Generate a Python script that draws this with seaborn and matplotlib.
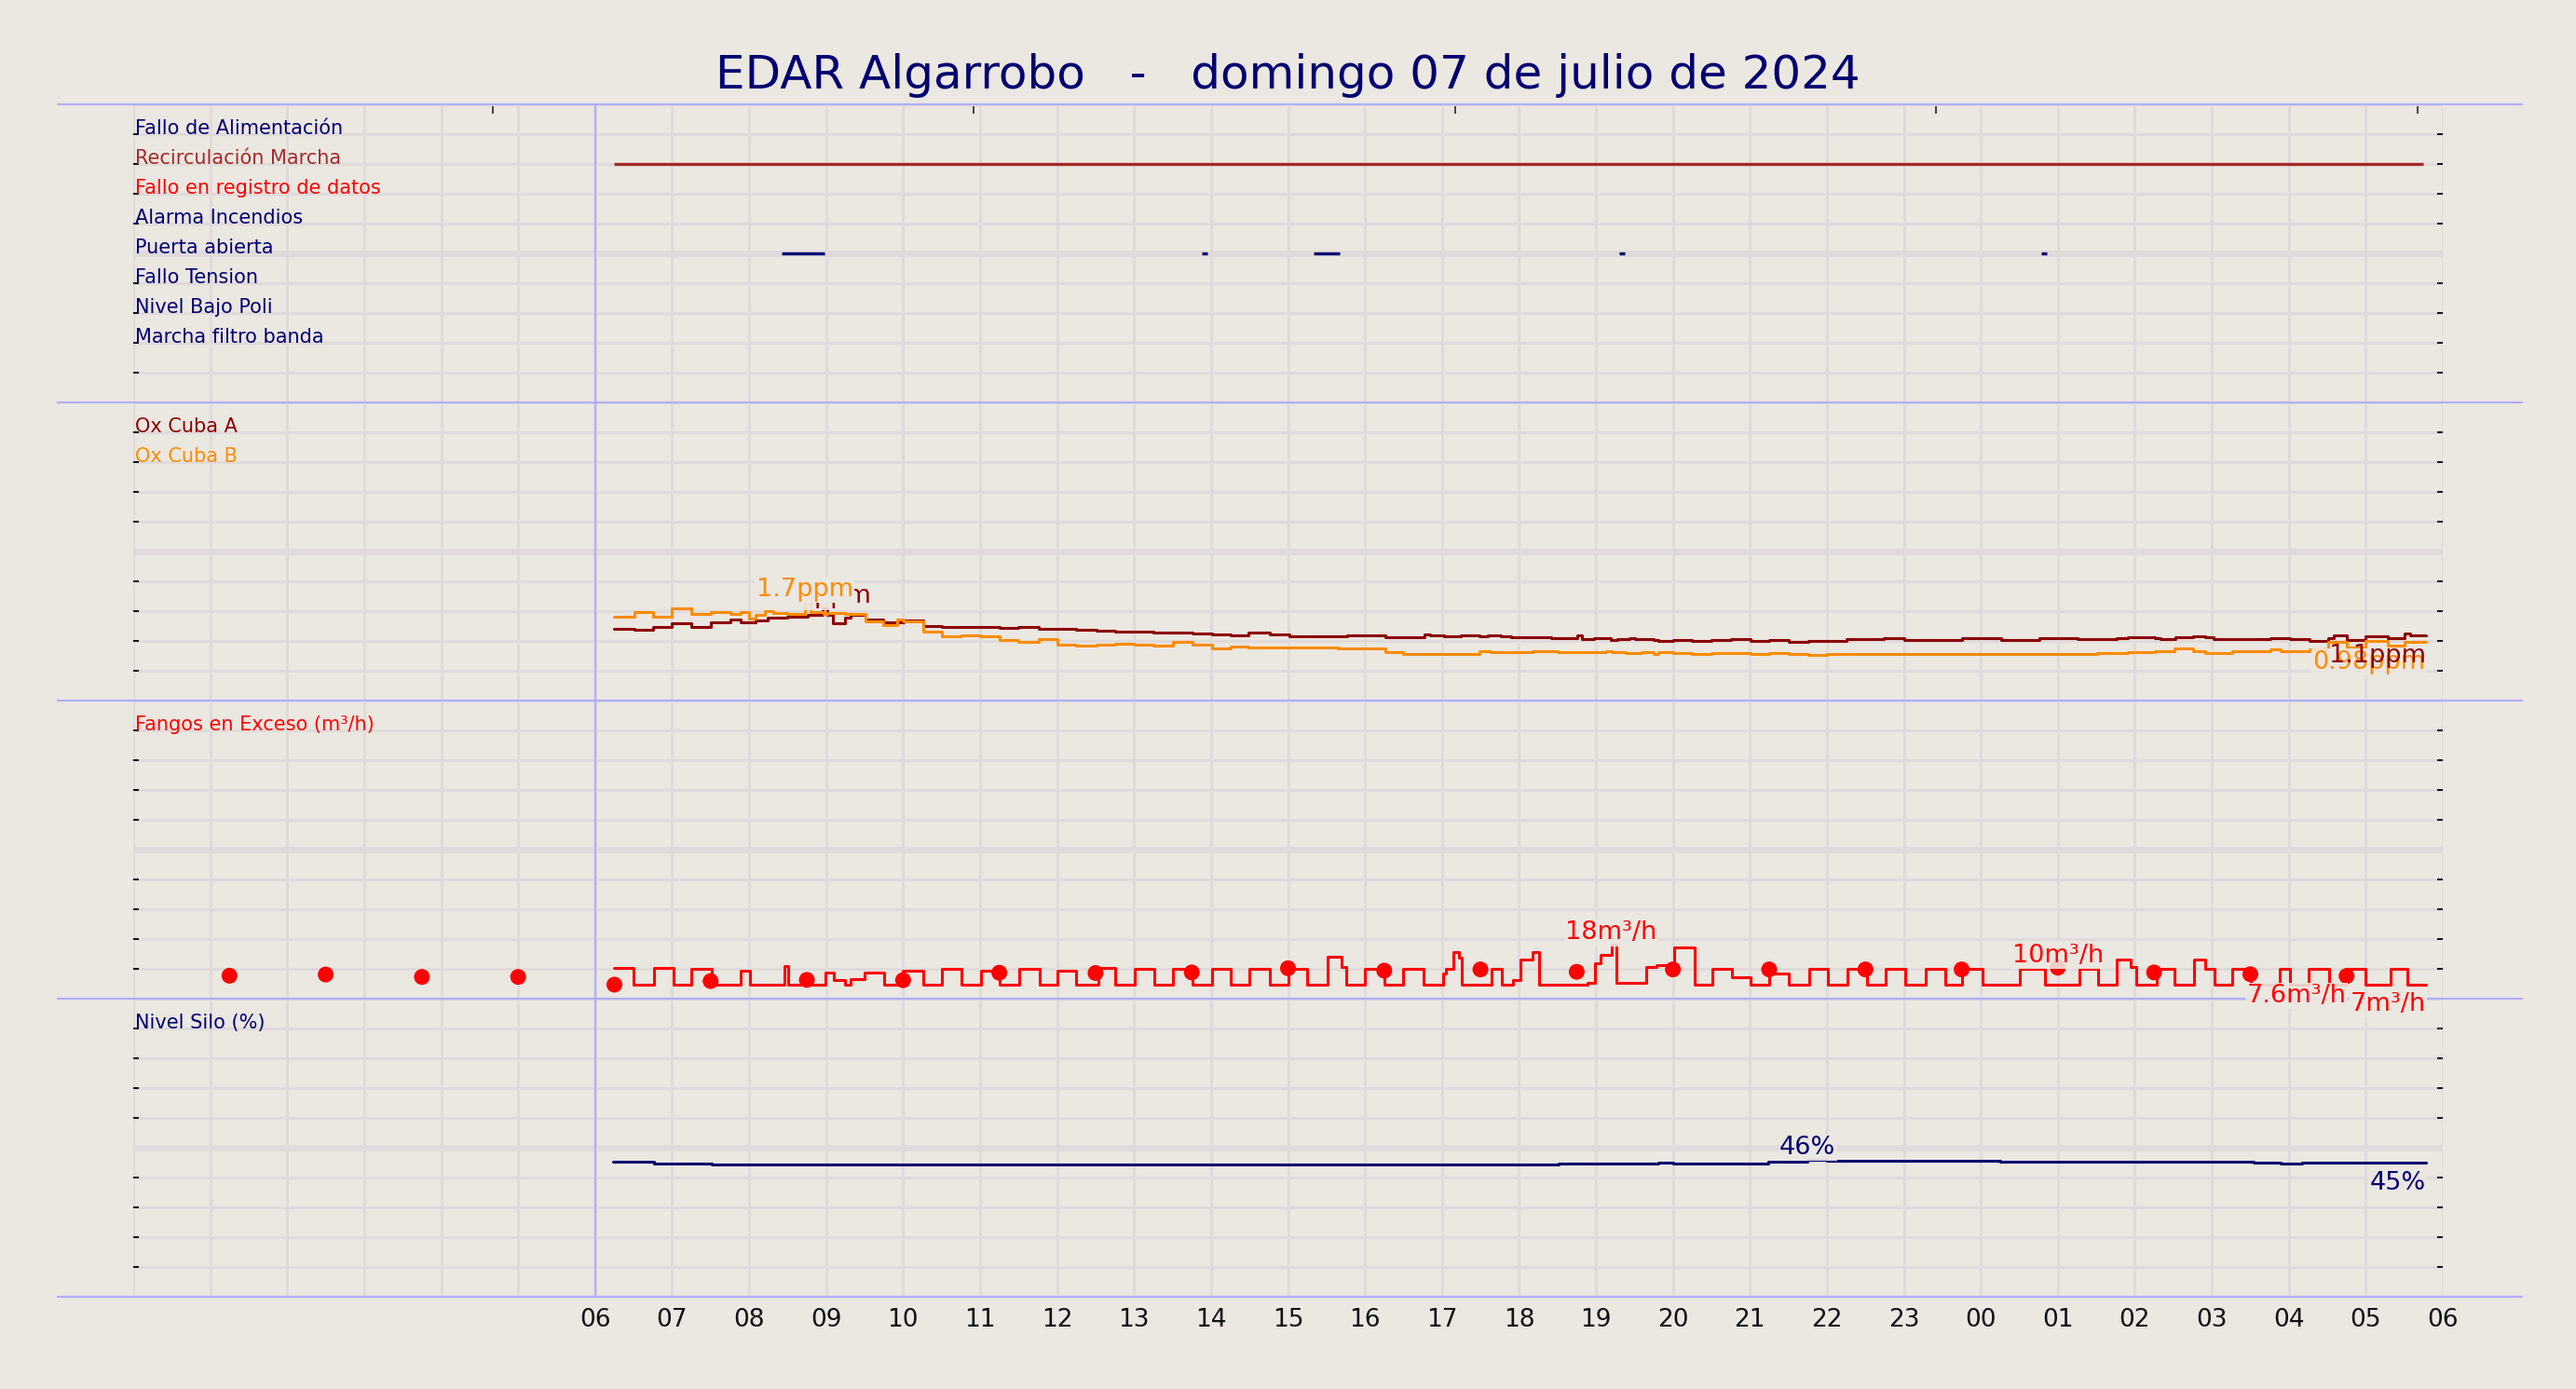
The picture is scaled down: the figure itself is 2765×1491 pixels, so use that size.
import numpy as np
import pandas as pd
import matplotlib
matplotlib.use("Agg")
import matplotlib.pyplot as plt
import seaborn as sns
from matplotlib.lines import Line2D

# colours
bg = "#ebe7e1"
grid_c = "#e0dbda"
sep_c = "#b0b0ff"
navy = "#000070"

title = "EDAR Algarrobo   -   domingo 07 de julio de 2024"

# x axis in hours from 00:00, the day runs 06:00 -> 06:00
hour_labels = ["06", "07", "08", "09", "10", "11", "12", "13", "14", "15", "16", "17",
               "18", "19", "20", "21", "22", "23", "00", "01", "02", "03", "04", "05", "06"]
top_ticks = [4.67, 10.92, 17.17, 23.42, 29.67]

# panel 1: digital signals
status_names = ["Fallo de Alimentación", "Recirculación Marcha", "Fallo en registro de datos",
                "Alarma Incendios", "Puerta abierta", "Fallo Tension", "Nivel Bajo Poli",
                "Marcha filtro banda"]
status_colors = [navy, "#a52a2a", "red", navy, navy, navy, navy, navy]
status_rows = [9, 8, 7, 6, 5, 4, 3, 2]
recirc_on = [6.25]
recirc_off = [29.75]
puerta_on = [8.42, 13.88, 15.33, 19.30, 24.78]
puerta_off = [8.98, 13.95, 15.67, 19.38, 24.86]

# panel 2: oxygen (ppm)
ox_a_t = [6.24, 6.51, 6.75, 7.00, 7.25, 7.50, 7.76, 7.89, 8.00, 8.08, 8.24, 8.49, 8.76, 8.95,
          9.01, 9.09, 9.24, 9.32, 9.51, 9.74, 10.01, 10.26, 10.51, 11.25, 11.50, 11.76, 12.25,
          12.51, 12.75, 13.25, 13.76, 14.01, 14.26, 14.49, 14.76, 15.02, 15.26, 15.77, 16.27,
          16.77, 16.85, 17.03, 17.25, 17.49, 17.59, 17.76, 17.90, 18.42, 18.76, 18.82, 18.98,
          19.19, 19.28, 19.44, 19.51, 19.75, 19.81, 20.01, 20.25, 20.50, 20.75, 21.01, 21.25,
          21.51, 21.76, 22.25, 22.74, 23.01, 23.75, 24.26, 24.76, 25.26, 25.76, 25.91, 26.26,
          26.33, 26.53, 26.76, 26.92, 27.02, 27.76, 28.01, 28.27, 28.51, 28.59, 28.75, 28.99,
          29.28, 29.50, 29.58, 29.78]
ox_a_v = [1.21, 1.19, 1.23, 1.29, 1.24, 1.31, 1.36, 1.32, 1.31, 1.34, 1.385, 1.40, 1.43, 1.54,
          1.43, 1.29, 1.385, 1.44, 1.36, 1.32, 1.344, 1.255, 1.229, 1.214, 1.229, 1.208, 1.188,
          1.172, 1.161, 1.146, 1.13, 1.115, 1.094, 1.135, 1.115, 1.073, 1.083, 1.099, 1.068,
          1.115, 1.089, 1.083, 1.10, 1.083, 1.10, 1.083, 1.068, 1.052, 1.10, 1.031, 1.052,
          1.02, 1.031, 1.052, 1.031, 1.016, 1.0, 1.021, 1.0, 1.021, 1.036, 1.0, 1.021,
          0.984, 1.0, 1.036, 1.052, 1.021, 1.052, 1.016, 1.052, 1.031, 1.052, 1.068, 1.052,
          1.031, 1.063, 1.083, 1.063, 1.036, 1.047, 1.031, 1.005, 1.047, 1.099, 1.021, 1.083,
          1.047, 1.125, 1.09, 1.09]
ox_b_t = [6.24, 6.51, 6.75, 7.00, 7.25, 7.50, 7.76, 7.89, 8.00, 8.08, 8.20, 8.31, 8.49, 8.72,
          8.80, 8.97, 9.01, 9.24, 9.51, 9.74, 9.92, 10.01, 10.26, 10.51, 10.76, 11.00, 11.25,
          11.50, 11.76, 12.00, 12.25, 12.51, 12.75, 13.01, 13.25, 13.51, 13.76, 14.01, 14.26,
          14.49, 15.65, 16.27, 16.50, 17.49, 17.63, 18.18, 18.50, 19.13, 19.20, 19.39, 19.59,
          19.75, 19.81, 20.01, 20.25, 20.50, 21.01, 21.25, 21.51, 21.76, 22.00, 25.51, 25.91,
          26.26, 26.51, 26.76, 26.92, 27.26, 27.76, 27.89, 28.27, 28.51, 28.75, 28.99, 29.28,
          29.50, 29.78]
ox_b_v = [1.40, 1.49, 1.41, 1.54, 1.458, 1.49, 1.448, 1.479, 1.37, 1.437, 1.505, 1.47, 1.448, 1.70,
          1.49, 1.458, 1.468, 1.448, 1.333, 1.271, 1.359, 1.333, 1.151, 1.073, 1.099, 1.073, 1.010,
          0.979, 1.036, 0.943, 0.927, 0.943, 0.958, 0.943, 0.927, 0.979, 0.943, 0.88, 0.906,
          0.896, 0.88, 0.813, 0.786, 0.828, 0.8125, 0.828, 0.8125, 0.828, 0.8125, 0.797, 0.8125,
          0.781, 0.8125, 0.797, 0.781, 0.797, 0.781, 0.80, 0.781, 0.766, 0.781, 0.797, 0.8125,
          0.828, 0.875, 0.823, 0.802, 0.833, 0.854, 0.833, 0.865, 0.979, 0.891, 0.995, 0.917,
          0.98, 0.98]

# panel 3: excess sludge (m3/h), signal and 75 min mean
fangos_t = [6.25, 6.50, 6.76, 7.02, 7.25, 7.52, 7.89, 8.01, 8.46, 8.51, 8.99, 9.10, 9.24, 9.32,
            9.50, 9.75, 9.99, 10.26, 10.51, 10.76, 11.01, 11.26, 11.51, 11.77, 12.01, 12.25,
            12.54, 12.76, 13.01, 13.26, 13.50, 13.76, 14.01, 14.26, 14.50, 14.76, 15.00, 15.25,
            15.52, 15.69, 15.76, 16.00, 16.25, 16.50, 16.76, 17.01, 17.05, 17.15, 17.22, 17.26,
            17.64, 17.78, 17.92, 18.02, 18.18, 18.26, 18.89, 18.99, 19.06, 19.20, 19.27, 19.65,
            19.79, 20.02, 20.28, 20.51, 20.77, 21.01, 21.25, 21.51, 21.77, 22.01, 22.27, 22.52,
            22.76, 23.02, 23.28, 23.54, 23.76, 24.02, 24.51, 24.83, 25.28, 25.52, 25.76, 25.95,
            26.02, 26.28, 26.51, 26.77, 26.91, 27.03, 27.27, 27.51, 27.88, 28.02, 28.26, 28.52,
            28.74, 29.00, 29.32, 29.54, 29.78]
fangos_v = [10.2, 4.7, 10.2, 4.7, 10.0, 4.7, 9.5, 4.7, 11.0, 4.7, 8.7, 6.4, 4.7, 6.7,
            8.7, 4.7, 9.5, 4.7, 10.0, 4.7, 9.5, 4.7, 10.0, 4.7, 9.5, 4.7,
            10.2, 4.7, 10.0, 4.7, 10.0, 4.7, 10.0, 4.7, 10.0, 4.7, 10.0, 4.7,
            14.0, 10.6, 4.7, 10.0, 4.7, 10.0, 4.7, 8.4, 10.0, 15.6, 13.7, 4.7,
            10.0, 4.7, 6.3, 13.0, 15.6, 4.7, 5.3, 12.0, 14.7, 18.0, 5.3, 10.6,
            11.2, 17.2, 4.7, 10.0, 7.2, 4.7, 8.4, 4.7, 10.0, 4.7, 10.0, 4.7,
            10.0, 4.7, 10.0, 4.7, 10.0, 4.7, 10.0, 4.7, 10.0, 4.7, 13.0, 10.5,
            4.7, 10.0, 4.7, 13.0, 10.0, 4.7, 10.0, 4.7, 10.0, 4.7, 10.0, 4.7,
            10.0, 4.7, 10.0, 4.7, 4.7]
fangos_mean_t = [1.25, 2.50, 3.75, 5.00, 6.25, 7.50, 8.75, 10.00, 11.25, 12.50, 13.75, 15.00,
                 16.25, 17.50, 18.75, 20.00, 21.25, 22.50, 23.75, 25.00, 26.25, 27.50, 28.75]
fangos_mean_v = [7.7, 8.1, 7.3, 7.3, 4.7, 5.9, 6.3, 6.2, 8.7, 8.6, 8.8, 10.2,
                 9.4, 9.8, 9.0, 9.8, 9.8, 9.8, 9.8, 10.4, 8.8, 8.2, 7.6]
fangos_last_label = 7

# panel 4: silo level (%)
silo_t = [6.23, 6.76, 7.52, 18.51, 19.81, 20.00, 21.24, 21.75, 22.00, 24.25, 27.54, 27.90, 28.17, 29.78]
silo_v = [45.2, 44.6, 44.3, 44.6, 45.1, 44.6, 45.4, 46.0, 45.6, 45.2, 44.9, 44.6, 44.9, 44.9]

sns.set_theme(style="white", rc={"figure.facecolor": bg, "axes.facecolor": bg})
plt.rcParams["font.family"] = ["DejaVu Sans"]

fig, axes = plt.subplots(4, 1, figsize=(27.65, 14.91), dpi=100, sharex=True,
                         gridspec_kw={"hspace": 0})
fig.subplots_adjust(left=143 / 2765, right=2622 / 2765, top=1 - 112 / 1491, bottom=1 - 1392 / 1491)

# separator lines run a bit wider than the plotting area
sep_x = [(62 - 143) / 2479, (2707 - 143) / 2479]

ytops = [10, 5, 100, 100]
for i, (ax, top) in enumerate(zip(axes, ytops)):
    # upper panels are drawn last so their value tags can hang over the next panel
    ax.set_zorder(4 - i)
    ax.patch.set_visible(False)
    ax.set_axisbelow(True)
    ax.set_xlim(0, 30)
    ax.set_ylim(0, top)
    ax.set_yticks(np.linspace(0, top, 11))
    ax.set_xticks(range(31))
    ax.grid(True, color=grid_c, lw=2.2)
    ax.axhline(top / 2, color=grid_c, lw=5, zorder=0.6)
    ax.axvline(6, color=sep_c, lw=1.6, zorder=1)
    for s in ax.spines.values():
        s.set_visible(False)
    ax.tick_params(axis="y", direction="in", length=4, width=1.3, color="black",
                   left=True, right=True, labelleft=False)
    ax.tick_params(axis="x", length=0, labelsize=19, pad=9, labelcolor="#111111")
    ax.add_line(Line2D(sep_x, [0, 0], transform=ax.transAxes, color=sep_c, lw=1.6,
                       clip_on=False, zorder=2.5))
axes[0].add_line(Line2D(sep_x, [1, 1], transform=axes[0].transAxes, color=sep_c, lw=1.6,
                        clip_on=False, zorder=2.5))

axes[-1].set_xticklabels([""] * 6 + hour_labels)

sec = axes[0].secondary_xaxis("top")
sec.set_xticks(top_ticks, labels=[""] * len(top_ticks))
sec.tick_params(direction="in", length=7, width=1.3, color="#333333")
for s in sec.spines.values():
    s.set_visible(False)


def step(ax, t, v, color, lw=2.2):
    df = pd.DataFrame({"t": t, "v": v})
    sns.lineplot(data=df, x="t", y="v", ax=ax, color=color, lw=lw, estimator=None,
                 sort=False, drawstyle="steps-post", zorder=3)
    ax.set(xlabel="", ylabel="")


def tag(ax, x, y, text, color, ha, va, dy=0, z=5, alpha=0.9):
    ax.annotate(text, (x, y), xytext=(0, dy), textcoords="offset points", ha=ha, va=va,
                color=color, fontsize=19.5, zorder=z, annotation_clip=False,
                bbox=dict(boxstyle="square,pad=0.05", fc=bg, ec="none", alpha=alpha))


def name(ax, y, text, color):
    ax.text(0.02, y, text, color=color, fontsize=15, ha="left", va="baseline", zorder=4)


# panel 1
ax = axes[0]
for n, c, r in zip(status_names, status_colors, status_rows):
    name(ax, r, n, c)
ax.hlines([8] * len(recirc_on), recirc_on, recirc_off, color="#a52a2a", lw=2.4, zorder=3)
ax.hlines([5] * len(puerta_on), puerta_on, puerta_off, color=navy, lw=2.4, zorder=3)

# panel 2
ax = axes[1]
name(ax, 4.5, "Ox Cuba A", "#8b0000")
name(ax, 4.0, "Ox Cuba B", "#ff8c00")
step(ax, ox_a_t, ox_a_v, "#8b0000")
step(ax, ox_b_t, ox_b_v, "#ff8c00")
ia = int(np.argmax(ox_a_v))
ib = int(np.argmax(ox_b_v))
tag(ax, ox_a_t[ia], ox_a_v[ia], f"{ox_a_v[ia]:.2g}ppm", "#8b0000", "center", "bottom", z=5)
tag(ax, ox_b_t[ib], ox_b_v[ib], f"{ox_b_v[ib]:.2g}ppm", "#ff8c00", "center", "bottom", dy=-2, z=6,
    alpha=1)
tag(ax, ox_b_t[-1], ox_b_v[-1], f"{ox_b_v[-1]:.2g}ppm", "#ff8c00", "right", "top", dy=-6, z=5)
tag(ax, ox_a_t[-1], ox_a_v[-1], f"{ox_a_v[-1]:.2g}ppm", "#8b0000", "right", "top", dy=-6, z=6,
    alpha=0)

# panel 3
ax = axes[2]
name(ax, 90, "Fangos en Exceso (m³/h)", "red")
step(ax, fangos_t, fangos_v, "red")
sns.scatterplot(x=fangos_mean_t, y=fangos_mean_v, ax=ax, color="red", s=150,
                edgecolor="none", zorder=4)
im = int(np.argmax(fangos_v))
tag(ax, fangos_t[im], fangos_v[im], f"{fangos_v[im]:.2g}m³/h", "red", "center", "bottom")
idm = int(np.argmax(fangos_mean_v))
tag(ax, fangos_mean_t[idm], fangos_mean_v[idm], f"{fangos_mean_v[idm]:.2g}m³/h", "red",
    "center", "bottom")
tag(ax, fangos_mean_t[-1], fangos_mean_v[-1], f"{fangos_mean_v[-1]:.2g}m³/h", "red",
    "right", "top", dy=-6)
tag(ax, fangos_t[-1], fangos_v[-1], f"{fangos_last_label:.2g}m³/h", "red", "right", "top", dy=-6)

# panel 4
ax = axes[3]
name(ax, 90, "Nivel Silo (%)", navy)
step(ax, silo_t, silo_v, navy)
isl = int(np.argmax(silo_v))
tag(ax, silo_t[isl], silo_v[isl], f"{silo_v[isl]:.0f}%", navy, "center", "bottom")
tag(ax, silo_t[-1], silo_v[-1], f"{silo_v[-1]:.0f}%", navy, "right", "top", dy=-6)

fig.text(0.5, 1 - 81 / 1491, title, ha="center", va="center", fontsize=36, color=navy)

fig.savefig("out.png", dpi=100, facecolor=bg)
